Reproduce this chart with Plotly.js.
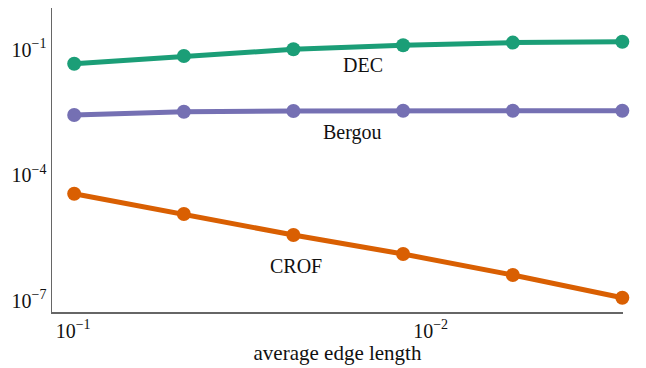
<!DOCTYPE html>
<html><head><meta charset="utf-8">
<script src="https://cdn.plot.ly/plotly-3.0.1.min.js"></script>
<style>html,body{margin:0;padding:0;background:#fff}#c{width:646px;height:368px}</style>
</head><body><div id="c"></div>
<script>
const edgeLength = [0.0993, 0.0490, 0.0242, 0.01194, 0.00589, 0.00291];
const decErr = [0.0458, 0.070, 0.101, 0.126, 0.146, 0.153];
const bergouErr = [0.00272, 0.00326, 0.00339, 0.00344, 0.00344, 0.00344];
const crofErr = [3.57e-5, 1.17e-5, 3.67e-6, 1.29e-6, 4.06e-7, 1.16e-7];
const seriesNames = ["DEC", "Bergou", "CROF"];
const xTickVals = [0.1, 0.01];
const xTickText = ["10<sup>−1</sup>", "10<sup>−2</sup>"];
const yTickVals = [1e-1, 1e-4, 1e-7];
const yTickText = ["10<sup>−1</sup>", "10<sup>−4</sup>", "10<sup>−7</sup>"];
const colors = ["#1b9e77", "#7570b3", "#d95f02"];
const allY = [decErr, bergouErr, crofErr];

const traces = allY.map((y, i) => ({
  x: edgeLength, y: y, name: seriesNames[i], type: "scatter", mode: "lines+markers",
  line: {color: colors[i], width: 5}, marker: {color: colors[i], size: 14},
  cliponaxis: false, showlegend: false
}));

const font = {family: "Liberation Serif, DejaVu Serif, serif", color: "#111", size: 20};
const layout = {
  width: 646, height: 368,
  margin: {l: 52, r: 23, t: 8, b: 56},
  paper_bgcolor: "#fff", plot_bgcolor: "#fff",
  font: font, showlegend: false,
  xaxis: {type: "log", range: [-0.941, -2.538], showgrid: false, zeroline: false,
    showline: true, linecolor: "#666", linewidth: 1.5, ticks: "",
    tickvals: xTickVals, ticktext: xTickText, tickfont: {size: 20},
    title: {text: "average edge length", font: {size: 21}, standoff: 3}},
  yaxis: {type: "log", range: [-7.275, -0.008], showgrid: false, zeroline: false,
    showline: true, linecolor: "#666", linewidth: 1.5, ticks: "",
    tickvals: yTickVals, ticktext: yTickText, tickfont: {size: 20}},
  annotations: [
    {text: seriesNames[0], xref: "paper", yref: "paper", x: 0.5447, y: 0.8125, xanchor: "center", yanchor: "middle", showarrow: false, font: {size: 20}},
    {text: seriesNames[1], xref: "paper", yref: "paper", x: 0.527, y: 0.589, xanchor: "center", yanchor: "middle", showarrow: false, font: {size: 20}},
    {text: seriesNames[2], xref: "paper", yref: "paper", x: 0.4265, y: 0.151, xanchor: "center", yanchor: "middle", showarrow: false, font: {size: 20}}
  ]
};
Plotly.newPlot("c", traces, layout, {staticPlot: true, displayModeBar: false});
</script></body></html>
